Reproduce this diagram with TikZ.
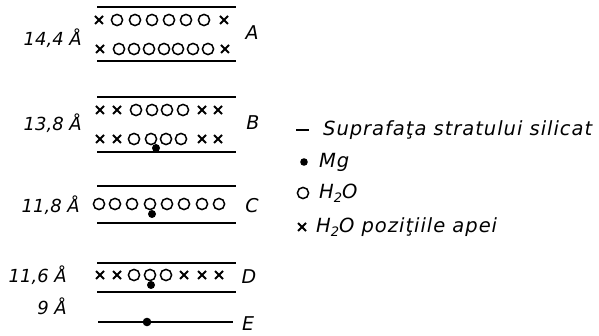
\documentclass[tikz,border=0pt]{standalone}
\usepackage{fontspec}
\setmainfont{DejaVu Sans}
\newfontfamily\legfont[LetterSpace=5]{DejaVu Sans}
\newcommand\subtwo{\raisebox{-0.35ex}{\fontsize{13}{13}\selectfont 2}}
\begin{document}
\begin{tikzpicture}[x=1pt,y=-1pt,
  layer/.style={line width=1.7pt},
  wc/.pic={\draw[line width=1.5pt] (0,0) circle (5.6pt);},
  xm/.pic={\draw[line width=1.8pt] (-4,-4)--(4,4) (-4,4)--(4,-4);},
  mg/.style={fill=black},
  lbl/.style={font=\fontsize{18}{18}\selectfont\itshape, inner sep=0pt},
  let/.style={font=\fontsize{19}{19}\selectfont\itshape, inner sep=0pt},
  leg/.style={font=\legfont\fontsize{19.5}{19.5}\selectfont\itshape, inner sep=0pt, anchor=west}]
\useasboundingbox (0,0) rectangle (599,336);
% ---- A ----
\draw[layer] (97,7) -- (236,7);
\draw[layer] (97,61) -- (236,61);
\foreach \x in {99,224} \pic at (\x,20) {xm};
\foreach \x in {117,135,152,169,186,204} \pic at (\x,20) {wc};
\foreach \x in {100,225} \pic at (\x,49) {xm};
\foreach \x in {119,134,149,164,178,193,208} \pic at (\x,49) {wc};
\node[lbl,anchor=east] (la) at (82,38) {14,4 Å};
\node[let] (A) at (252,33) {A};
% ---- B ----
\draw[layer] (97,97) -- (236,97);
\draw[layer] (97,152) -- (236,152);
\foreach \x in {100,117,202,218} \pic at (\x,110) {xm};
\foreach \x in {136,152,167,183} \pic at (\x,110) {wc};
\foreach \x in {100,117,202,218} \pic at (\x,139) {xm};
\foreach \x in {134,151,166,181} \pic at (\x,139) {wc};
\fill[mg] (156,148) circle (4pt);
\node[lbl,anchor=east] (lb) at (82,123) {13,8 Å};
\node[let] (B) at (253,123) {B};
% ---- C ----
\draw[layer] (97,186) -- (236,186);
\draw[layer] (97,223) -- (236,223);
\foreach \x in {99,115,132,150,167,184,202,219} \pic at (\x,204) {wc};
\fill[mg] (152,214) circle (4pt);
\node[lbl,anchor=east] (lc) at (80,205) {11,8 Å};
\node[let] (C) at (252,206) {C};
% ---- D ----
\draw[layer] (97,263) -- (236,263);
\draw[layer] (97,292) -- (236,292);
\foreach \x in {100,117,184,202,219} \pic at (\x,275) {xm};
\foreach \x in {134,150,166} \pic at (\x,275) {wc};
\fill[mg] (151,285) circle (4pt);
\node[lbl,anchor=east] (ld) at (67,275) {11,6 Å};
\node[lbl,anchor=east] (le) at (67,306) {9 Å};
\node[let] (D) at (249,277) {D};
% ---- E ----
\coordinate (e1) at (98,322);
\coordinate (e2) at (233,322);
\draw[line width=1.2pt] (e1) -- (e2);
\fill[mg] (147,322) circle (4.3pt);
\node[let] (E) at (248,324) {E};
% ---- legend ----
\draw[layer] (296,130) -- (309,130);
\node[leg] (t1) at (323,130) {Suprafaţa stratului silicat};
\fill[mg] (304,162) circle (3.8pt);
\node[leg] (t2) at (319,162) {Mg};
\pic at (303,193) {wc};
\node[leg] (t3) at (319,193) {H\subtwo O};
\pic at (302,227) {xm};
\node[leg] (t4) at (316,227) {H\subtwo O poziţiile apei};
\end{tikzpicture}
\end{document}
